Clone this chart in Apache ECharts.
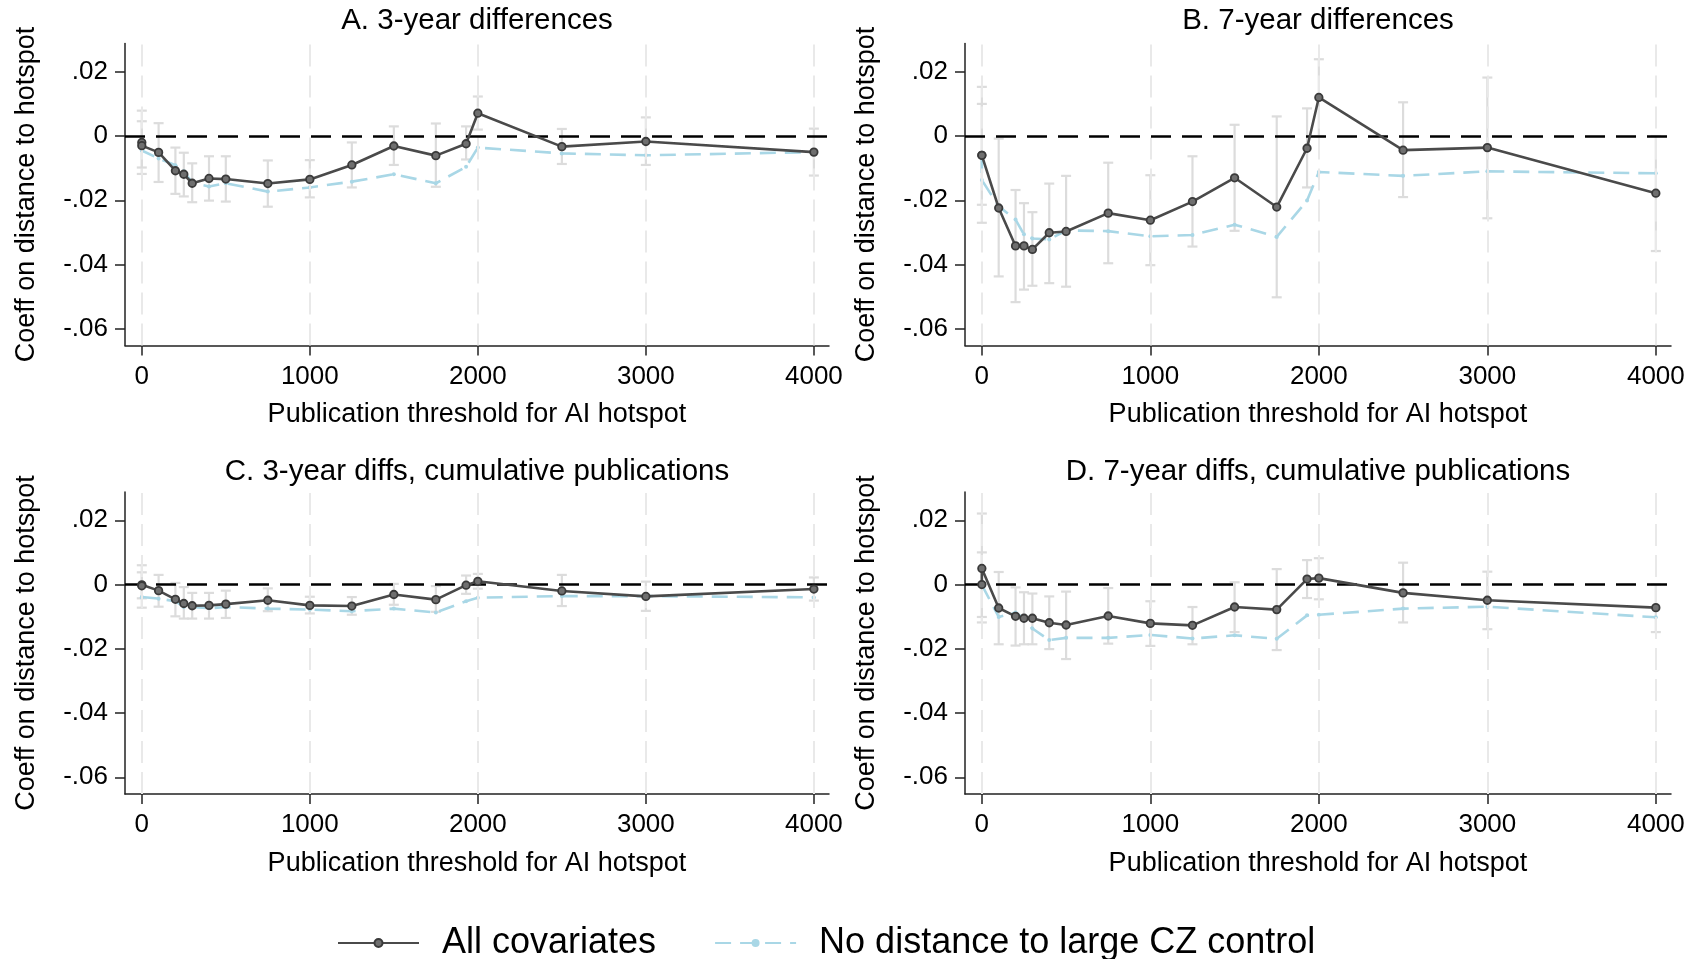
<!DOCTYPE html>
<html>
<head>
<meta charset="utf-8">
<script src="https://cdn.jsdelivr.net/npm/echarts@6/dist/echarts.min.js"></script>
<style>
  html, body { margin: 0; padding: 0; background: #fff; }
  #chart { width: 1704px; height: 959px; }
</style>
</head>
<body>
<div id="chart"></div>
<script>
// --- données --- //
const thresholds = [0, 0, 100, 200, 250, 300, 400, 500, 750, 1000, 1250, 1500, 1750, 1930, 2000, 2500, 3000, 4000];
const xTicks = [0, 1000, 2000, 3000, 4000];
const yTicks = [-0.06, -0.04, -0.02, 0, 0.02];
const panelTitles = ['A. 3-year differences', 'B. 7-year differences', 'C. 3-year diffs, cumulative publications', 'D. 7-year diffs, cumulative publications'];
const seriesNames = ['All covariates', 'No distance to large CZ control'];

// panel A
const allCovA = [-0.002, -0.003, -0.0051, -0.0108, -0.0119, -0.0147, -0.0132, -0.0134, -0.0148, -0.0135, -0.0090, -0.0031, -0.0061, -0.0024, 0.0071, -0.0033, -0.0017, -0.0050];
const noDistA = [-0.0038, -0.0045, -0.0070, -0.0091, -0.0110, -0.0145, -0.0157, -0.0147, -0.0173, -0.0160, -0.0142, -0.0119, -0.0147, -0.0096, -0.0036, -0.0054, -0.0060, -0.0050];
const ciLowA = [-0.0098, -0.0118, -0.0143, -0.0180, -0.0188, -0.0206, -0.0201, -0.0204, -0.0220, -0.0191, -0.0160, -0.0090, -0.0158, -0.0073, 0.0020, -0.0087, -0.0090, -0.0123];
const ciHighA = [0.0079, 0.0046, 0.0040, -0.0036, -0.0052, -0.0085, -0.0063, -0.0063, -0.0076, -0.0075, -0.0020, 0.0030, 0.0039, 0.0030, 0.0123, 0.0022, 0.0058, 0.0023];

// panel B
const allCovB = [-0.0060, -0.0060, -0.0224, -0.0342, -0.0342, -0.0353, -0.0301, -0.0297, -0.0240, -0.0262, -0.0204, -0.0130, -0.0221, -0.0038, 0.0120, -0.0044, -0.0036, -0.0178];
const noDistB = [-0.0065, -0.0137, -0.0219, -0.0260, -0.0306, -0.0319, -0.0322, -0.0294, -0.0296, -0.0312, -0.0308, -0.0276, -0.0314, -0.0201, -0.0112, -0.0124, -0.0110, -0.0116];
const ciLowB = [-0.0270, -0.0214, -0.0437, -0.0517, -0.0478, -0.0466, -0.0458, -0.0469, -0.0396, -0.0402, -0.0344, -0.0295, -0.0502, -0.0160, -0.0001, -0.0190, -0.0256, -0.0358];
const ciHighB = [0.0153, 0.0100, -0.0008, -0.0168, -0.0209, -0.0237, -0.0148, -0.0124, -0.0083, -0.0122, -0.0063, 0.0035, 0.0061, 0.0086, 0.0239, 0.0105, 0.0182, 0.0000];

// panel C
const allCovC = [-0.0001, -0.0004, -0.0019, -0.0046, -0.0059, -0.0066, -0.0065, -0.0061, -0.0049, -0.0065, -0.0067, -0.0031, -0.0047, -0.0002, 0.0010, -0.0020, -0.0037, -0.0014];
const noDistC = [-0.0039, -0.0040, -0.0044, -0.0052, -0.0070, -0.0070, -0.0074, -0.0070, -0.0075, -0.0078, -0.0083, -0.0075, -0.0087, -0.0052, -0.0041, -0.0036, -0.0036, -0.0040];
const ciLowC = [-0.0072, -0.0043, -0.0069, -0.0099, -0.0106, -0.0106, -0.0106, -0.0104, -0.0083, -0.0090, -0.0094, -0.0063, -0.0085, -0.0029, -0.0013, -0.0067, -0.0082, -0.0050];
const ciHighC = [0.0060, 0.0038, 0.0030, 0.0005, -0.0008, -0.0026, -0.0026, -0.0019, -0.0012, -0.0038, -0.0039, 0.0002, -0.0005, 0.0028, 0.0033, 0.0030, 0.0009, 0.0022];

// panel D
const allCovD = [0.0000, 0.0050, -0.0073, -0.0099, -0.0105, -0.0105, -0.0119, -0.0126, -0.0098, -0.0121, -0.0127, -0.0070, -0.0078, 0.0017, 0.0020, -0.0026, -0.0049, -0.0072];
const noDistD = [-0.0001, -0.0001, -0.0101, -0.0087, -0.0106, -0.0137, -0.0173, -0.0166, -0.0166, -0.0157, -0.0168, -0.0158, -0.0169, -0.0096, -0.0094, -0.0075, -0.0069, -0.0102];
const ciLowD = [-0.0101, -0.0118, -0.0186, -0.0190, -0.0186, -0.0186, -0.0201, -0.0232, -0.0184, -0.0191, -0.0186, -0.0148, -0.0204, -0.0042, -0.0046, -0.0118, -0.0139, -0.0148];
const ciHighD = [0.0100, 0.0221, 0.0039, -0.0009, -0.0024, -0.0028, -0.0037, -0.0022, -0.0011, -0.0052, -0.0070, 0.0007, 0.0048, 0.0076, 0.0082, 0.0068, 0.0040, 0.0000];

const panels = [
  { all: allCovA, noDist: noDistA, lo: ciLowA, hi: ciHighA },
  { all: allCovB, noDist: noDistB, lo: ciLowB, hi: ciHighB },
  { all: allCovC, noDist: noDistC, lo: ciLowC, hi: ciHighC },
  { all: allCovD, noDist: noDistD, lo: ciLowD, hi: ciHighD }
];

// --- mise en page --- //
const FONT = "'Liberation Sans', Helvetica, Arial, sans-serif";
const gridBoxes = [
  { left: 125, top: 43.5, width: 704, height: 302 },
  { left: 965, top: 43.5, width: 706, height: 302 },
  { left: 125, top: 492, width: 704, height: 302 },
  { left: 965, top: 492, width: 706, height: 302 }
];
const titleCenters = [[477, 6], [1318, 6], [477, 457], [1318, 457]];

const darkColor = '#4a4a4a';
const blueColor = '#a9d7e6';
const ciColor = '#dcdcdc';

function yLabel(v) {
  if (Math.abs(v) < 1e-9) return '0';
  const s = Math.abs(v).toFixed(2).replace(/^0/, '');
  return (v < 0 ? '-' : '') + s;
}

function ciRender(params, api) {
  const x = api.value(0);
  const pLo = api.coord([x, api.value(1)]);
  const pHi = api.coord([x, api.value(2)]);
  const cap = 5;
  const st = { stroke: ciColor, lineWidth: 2.2 };
  return {
    type: 'group',
    children: [
      { type: 'line', shape: { x1: pLo[0], y1: pLo[1], x2: pHi[0], y2: pHi[1] }, style: st },
      { type: 'line', shape: { x1: pLo[0] - cap, y1: pLo[1], x2: pLo[0] + cap, y2: pLo[1] }, style: st },
      { type: 'line', shape: { x1: pHi[0] - cap, y1: pHi[1], x2: pHi[0] + cap, y2: pHi[1] }, style: st }
    ]
  };
}

const grid = [], xAxis = [], yAxis = [], series = [], title = [];

panels.forEach((p, i) => {
  grid.push(gridBoxes[i]);
  title.push({
    text: panelTitles[i],
    left: titleCenters[i][0],
    top: titleCenters[i][1],
    textAlign: 'center',
    padding: 0,
    textStyle: { fontFamily: FONT, fontSize: 29.5, fontWeight: 'normal', color: '#000' }
  });
  xAxis.push({
    type: 'value',
    gridIndex: i,
    min: -100,
    max: 4090,
    name: 'Publication threshold for AI hotspot',
    nameLocation: 'middle',
    nameGap: 56,
    nameTextStyle: { fontFamily: FONT, fontSize: 27, color: '#000' },
    axisLine: { show: true, onZero: false, lineStyle: { color: '#222', width: 1.5 } },
    axisTick: { show: true, length: 10, customValues: xTicks, lineStyle: { color: '#222', width: 1.5 } },
    axisLabel: { customValues: xTicks, margin: 18, fontFamily: FONT, fontSize: 26, color: '#000', formatter: v => String(v) },
    splitLine: { show: false }
  });
  yAxis.push({
    type: 'value',
    gridIndex: i,
    min: -0.0652,
    max: 0.0288,
    name: 'Coeff on distance to hotspot',
    nameLocation: 'middle',
    nameGap: 85,
    nameTextStyle: { fontFamily: FONT, fontSize: 27, color: '#000' },
    axisLine: { show: true, onZero: false, lineStyle: { color: '#222', width: 1.5 } },
    axisTick: { show: true, length: 10, customValues: yTicks, lineStyle: { color: '#222', width: 1.5 } },
    axisLabel: { customValues: yTicks, margin: 17, fontFamily: FONT, fontSize: 26, color: '#000', formatter: yLabel },
    splitLine: { show: false }
  });

  // lignes verticales de la grille
  series.push({
    type: 'line',
    xAxisIndex: i, yAxisIndex: i,
    data: [],
    z: 1,
    silent: true,
    markLine: {
      silent: true,
      symbol: 'none',
      label: { show: false },
      animation: false,
      lineStyle: { color: '#e9e9e9', width: 2, type: [22, 9] },
      data: xTicks.map(v => ({ xAxis: v }))
    }
  });

  // intervalles de confiance
  series.push({
    type: 'custom',
    xAxisIndex: i, yAxisIndex: i,
    z: 2,
    silent: true,
    renderItem: ciRender,
    encode: { x: 0, y: [1, 2] },
    data: thresholds.map((t, k) => [t, p.lo[k], p.hi[k]])
  });

  // ligne zéro
  series.push({
    type: 'line',
    xAxisIndex: i, yAxisIndex: i,
    data: [],
    z: 3,
    silent: true,
    markLine: {
      silent: true,
      symbol: 'none',
      label: { show: false },
      animation: false,
      lineStyle: { color: '#000', width: 2.6, type: [20, 11] },
      data: [{ yAxis: 0 }]
    }
  });

  series.push({
    name: seriesNames[1],
    type: 'line',
    xAxisIndex: i, yAxisIndex: i,
    z: 4,
    symbol: 'circle',
    symbolSize: 4,
    itemStyle: { color: blueColor },
    lineStyle: { color: blueColor, width: 2.6, type: [16, 9] },
    data: thresholds.map((t, k) => [t, p.noDist[k]])
  });

  series.push({
    name: seriesNames[0],
    type: 'line',
    xAxisIndex: i, yAxisIndex: i,
    z: 5,
    symbol: 'circle',
    symbolSize: 7.5,
    itemStyle: { color: '#6f6f6f', borderColor: '#3a3a3a', borderWidth: 1.8 },
    lineStyle: { color: darkColor, width: 2.6 },
    data: thresholds.map((t, k) => [t, p.all[k]])
  });
});

const option = {
  animation: false,
  backgroundColor: '#fff',
  textStyle: { fontFamily: FONT },
  title: title,
  grid: grid,
  xAxis: xAxis,
  yAxis: yAxis,
  legend: {
    data: seriesNames,
    left: 332,
    top: 920,
    itemWidth: 81,
    itemHeight: 10,
    itemGap: 58,
    textStyle: { fontFamily: FONT, fontSize: 36, color: '#000', padding: [0, 0, 0, 18] }
  },
  series: series
};

const chart = echarts.init(document.getElementById('chart'), null, { renderer: 'canvas' });
chart.setOption(option);
</script>
</body>
</html>
